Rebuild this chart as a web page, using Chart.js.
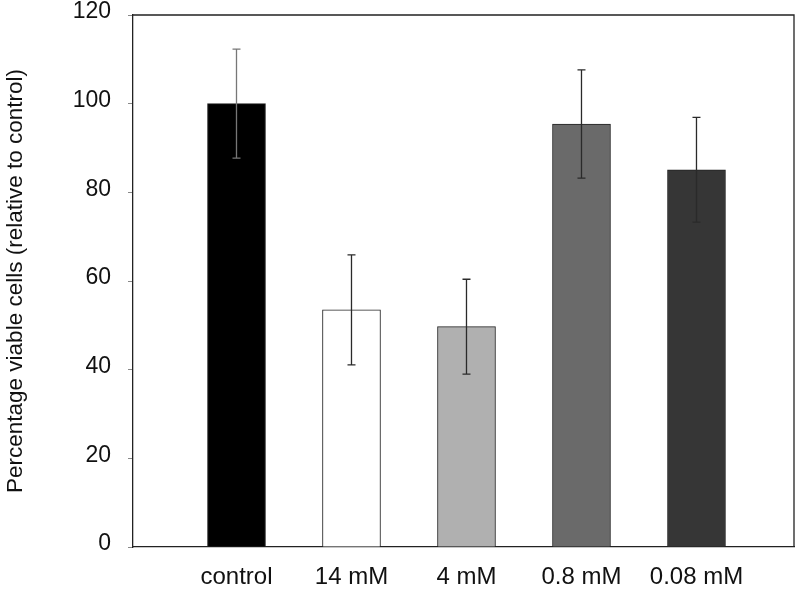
<!DOCTYPE html>
<html>
<head>
<meta charset="utf-8">
<script src="https://cdn.jsdelivr.net/npm/chart.js@4/dist/chart.umd.min.js"></script>
<style>
    body { margin: 0; background: #fff; }
    #wrap { width: 800px; height: 592px; position: relative; }
</style>
</head>
<body>
<div id="wrap"><canvas id="viabilityChart"></canvas></div>
<script>
// Data
const categories = ['control', '14 mM', '4 mM', '0.8 mM', '0.08 mM'];
const viability = [100, 53.5, 49.7, 95.4, 85.1];
const errors = [12.3, 12.4, 10.7, 12.2, 11.8];
const barColors = ['#000000', '#ffffff', '#b0b0b0', '#6a6a6a', '#363636'];
const yTicks = [0, 20, 40, 60, 80, 100, 120];

const family = '"Liberation Sans", Arial, Helvetica, sans-serif';

// Box round the plot area + error bars
const boxAndErrors = {
    id: 'boxAndErrors',
    afterDatasetsDraw(chart) {
        const ctx = chart.ctx;
        const x = chart.scales.x, y = chart.scales.y;
        const area = chart.chartArea;
        ctx.save();
        ctx.strokeStyle = '#222';
        ctx.lineWidth = 1.3;
        ctx.beginPath();
        ctx.moveTo(area.left, area.top);
        ctx.lineTo(area.right, area.top);
        ctx.lineTo(area.right, area.bottom);
        ctx.stroke();

        ctx.lineWidth = 1.3;
        categories.forEach((c, i) => {
            const px = x.getPixelForValue(i);
            const top = y.getPixelForValue(viability[i] + errors[i]);
            const bot = y.getPixelForValue(viability[i] - errors[i]);
            ctx.strokeStyle = i === 0 ? '#777' : '#2a2a2a';
            ctx.beginPath();
            ctx.moveTo(px, top);
            ctx.lineTo(px, bot);
            ctx.moveTo(px - 4, top);
            ctx.lineTo(px + 4, top);
            ctx.moveTo(px - 4, bot);
            ctx.lineTo(px + 4, bot);
            ctx.stroke();
        });
        ctx.restore();
    }
};

new Chart(document.getElementById('viabilityChart'), {
    type: 'bar',
    data: {
        datasets: [{
            data: categories.map((c, i) => ({ x: i, y: viability[i] })),
            backgroundColor: barColors,
            borderColor: '#222',
            borderWidth: 1,
            barThickness: 58
        }]
    },
    options: {
        responsive: true,
        maintainAspectRatio: false,
        animation: false,
        layout: { padding: { top: 15, right: 6, left: 0, bottom: 0 } },
        plugins: { legend: { display: false }, tooltip: { enabled: false } },
        scales: {
            x: {
                type: 'linear',
                offset: false,
                min: -0.9,
                max: 4.848,
                afterBuildTicks: (scale) => { scale.ticks = categories.map((c, i) => ({ value: i })); },
                afterFit: (scale) => { scale.height = 45; scale.paddingLeft = 0; scale.paddingRight = 0; },
                grid: { display: false },
                border: { display: true, color: '#222', width: 1.3 },
                ticks: {
                    autoSkip: false,
                    maxRotation: 0,
                    padding: 8,
                    color: '#111',
                    font: { family: family, size: 24 },
                    callback: (v) => categories[v]
                }
            },
            y: {
                min: 0,
                max: 120,
                afterBuildTicks: (scale) => { scale.ticks = yTicks.map(v => ({ value: v })); },
                afterFit: (scale) => { scale.width = 133; scale.paddingTop = 0; scale.paddingBottom = 0; },
                grid: { drawOnChartArea: false, drawTicks: true, tickLength: 5, color: '#888' },
                border: { display: true, color: '#222', width: 1.3 },
                ticks: { padding: 17, color: '#111', font: { family: family, size: 23 }, labelOffset: -3 },
                title: {
                    display: true,
                    text: 'Percentage viable cells (relative to control)',
                    color: '#111',
                    font: { family: family, size: 22.5 },
                    padding: { top: 2, bottom: 0 }
                }
            }
        }
    },
    plugins: [boxAndErrors]
});
</script>
</body>
</html>
